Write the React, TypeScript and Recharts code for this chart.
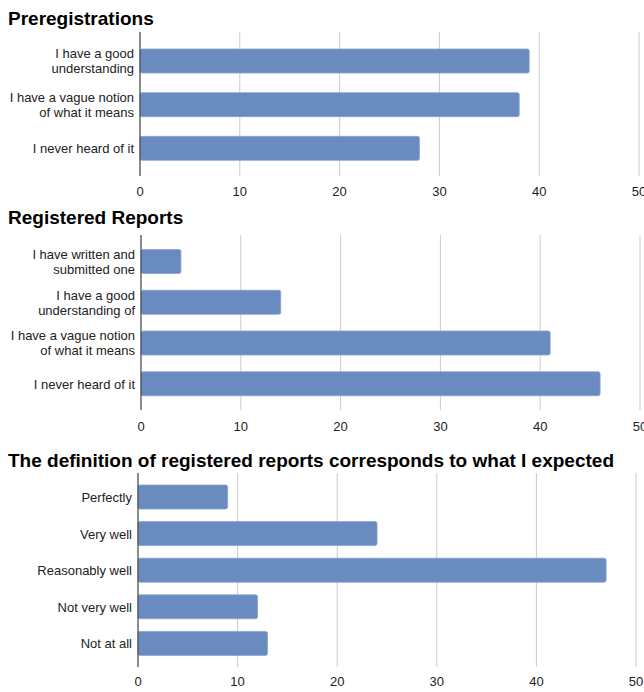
import React from "react";
import { BarChart, Bar, XAxis, YAxis, CartesianGrid } from "recharts";

const FONT = "'Liberation Sans', Arial, Helvetica, sans-serif";
const BAR_COLOR = "#698bc0";

const xTicks = [0, 10, 20, 30, 40, 50];

const preregCategories = [
  "I have a good\nunderstanding",
  "I have a vague notion\nof what it means",
  "I never heard of it",
];
const preregValues = [39, 38, 28];

const rrCategories = [
  "I have written and\nsubmitted one",
  "I have a good\nunderstanding of",
  "I have a vague notion\nof what it means",
  "I never heard of it",
];
const rrValues = [4, 14, 41, 46];

const defCategories = [
  "Perfectly",
  "Very well",
  "Reasonably well",
  "Not very well",
  "Not at all",
];
const defValues = [9, 24, 47, 12, 13];

const titles = [
  "Preregistrations",
  "Registered Reports",
  "The definition of registered reports corresponds to what I expected",
];

const build = (cats: string[], vals: number[]) =>
  cats.map((name, i) => ({ name, value: vals[i] }));

const CatTick = (props: any) => {
  const { x, y, payload } = props;
  const lines = String(payload.value).split("\n");
  const lh = 15;
  const y0 = y - ((lines.length - 1) * lh) / 2;
  return (
    <text x={x} y={y0} textAnchor="end" fontSize={13} fill="#222" fontFamily={FONT}>
      {lines.map((l: string, i: number) => (
        <tspan key={i} x={x} y={y0 + i * lh} dy="0.355em">
          {l}
        </tspan>
      ))}
    </text>
  );
};

type PanelProps = {
  data: { name: string; value: number }[];
  top: number;
  height: number;
  margin: { top: number; right: number; bottom: number; left: number };
  padTop: number;
  padBottom: number;
  tickMargin: number;
};

const Panel = ({ data, top, height, margin, padTop, padBottom, tickMargin }: PanelProps) => (
  <div style={{ position: "absolute", left: 0, top, width: 644, height }}>
    <BarChart width={644} height={height} data={data} layout="vertical" margin={margin}>
      <CartesianGrid horizontal={false} stroke="#cccccc" />
      <XAxis
        type="number"
        domain={[0, 50]}
        ticks={xTicks}
        axisLine={false}
        tickLine={false}
        tickSize={0}
        tickMargin={tickMargin}
        height={24}
        tick={{ fontSize: 13, fill: "#222", fontFamily: FONT }}
        interval={0}
      />
      <YAxis
        type="category"
        dataKey="name"
        width={140}
        axisLine={{ stroke: "#333333" }}
        tickLine={false}
        tickSize={0}
        tickMargin={6}
        tick={<CatTick />}
        padding={{ top: padTop, bottom: padBottom }}
        interval={0}
      />
      <Bar
        dataKey="value"
        fill={BAR_COLOR}
        stroke="#86a3cf"
        strokeWidth={0.8}
        radius={2}
        barSize={24}
        isAnimationActive={false}
      />
    </BarChart>
  </div>
);

export default function App() {
  return (
    <div style={{ position: "absolute", left: 0, top: 0, width: 644, height: 692, background: "#fff", overflow: "hidden" }}>
      <Panel
        data={build(preregCategories, preregValues)}
        top={0}
        height={200}
        margin={{ top: 32, right: 5, bottom: 0, left: 0 }}
        padTop={7}
        padBottom={6}
        tickMargin={11}
      />
      <Panel
        data={build(rrCategories, rrValues)}
        top={200}
        height={240}
        margin={{ top: 35, right: 4, bottom: 6, left: 1 }}
        padTop={6.5}
        padBottom={5.5}
        tickMargin={12}
      />
      <Panel
        data={build(defCategories, defValues)}
        top={440}
        height={252}
        margin={{ top: 33, right: 8, bottom: 1, left: -2 }}
        padTop={6}
        padBottom={5}
        tickMargin={10}
      />
      <svg width={644} height={692} style={{ position: "absolute", left: 0, top: 0, pointerEvents: "none" }}>
        <text x={8} y={25} fontSize={19} fontWeight="bold" fill="#000" fontFamily={FONT}>
          {titles[0]}
        </text>
        <text x={8} y={224} fontSize={19} fontWeight="bold" fill="#000" fontFamily={FONT}>
          {titles[1]}
        </text>
        <text x={8} y={467} fontSize={19} fontWeight="bold" fill="#000" fontFamily={FONT}>
          {titles[2]}
        </text>
      </svg>
    </div>
  );
}
